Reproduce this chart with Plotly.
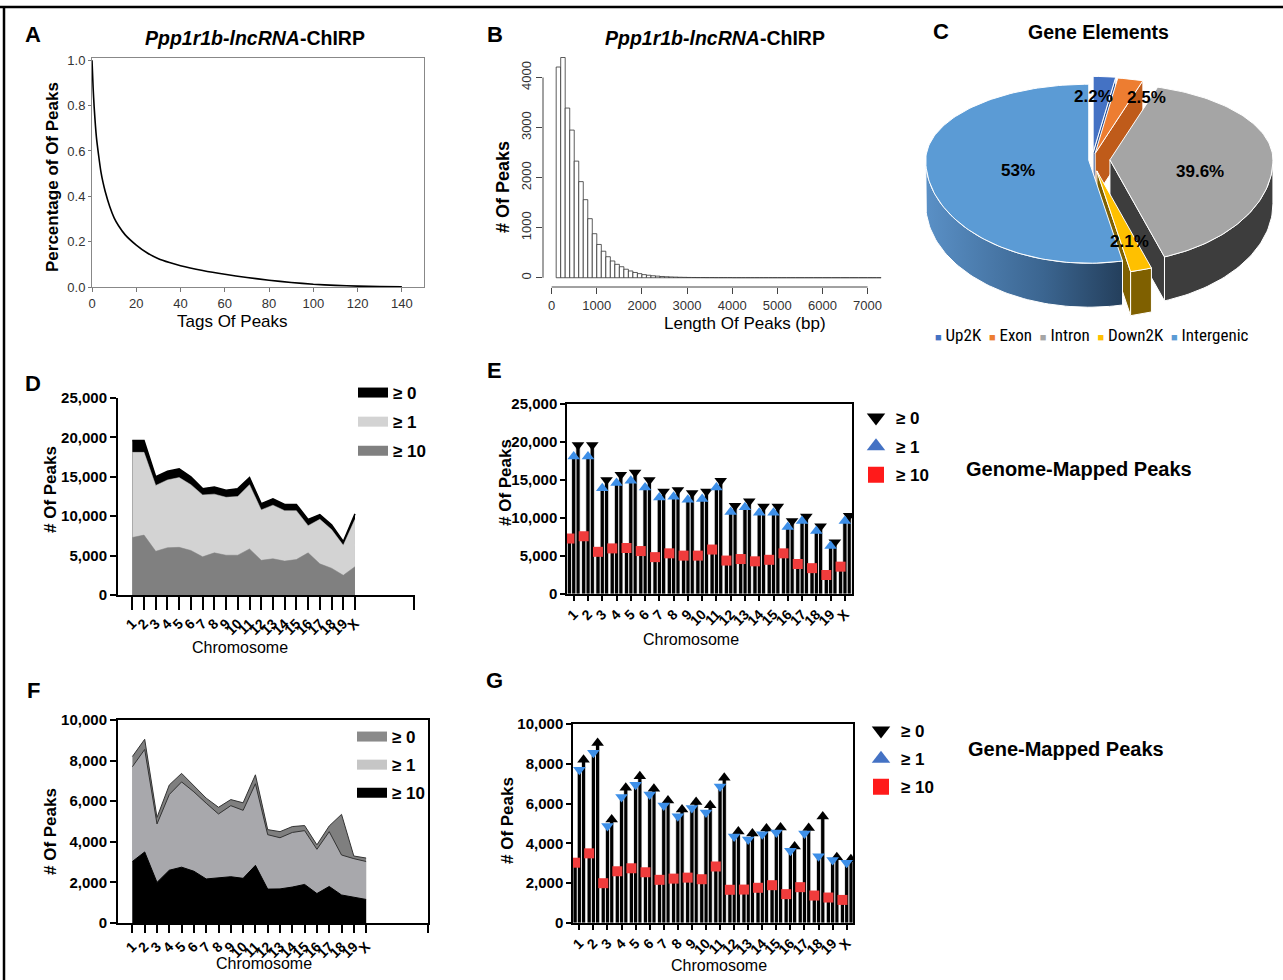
import numpy as np
import plotly.graph_objects as go

W, H = 1283, 980
FONT = "Liberation Sans, Arial, Helvetica, sans-serif"

# ======================= DATA =======================
# A: fraction of peaks vs number of tags
tags_x = [0, 0.5, 1, 2, 3, 4, 5, 6, 8, 10, 12, 15, 20, 25, 30, 35, 40, 50, 60, 70,
          80, 90, 100, 110, 120, 130, 140]
tags_frac = [1.0, 0.88, 0.79, 0.66, 0.58, 0.51, 0.46, 0.42, 0.355, 0.305, 0.27, 0.23,
             0.185, 0.15, 0.125, 0.108, 0.094, 0.073, 0.056, 0.042, 0.03, 0.02, 0.012,
             0.007, 0.004, 0.002, 0.001]

# B: histogram of peak length (bp), 100-bp bins starting at 100 bp
length_bin_start = 100
length_bin_width = 100
length_counts = [4210, 4400, 3390, 2950, 2330, 1920, 1560, 1180, 880, 665,
                 530, 420, 335, 268, 220, 170, 135, 105, 82, 62,
                 50, 40, 32, 25, 20, 16, 13, 10, 8, 6,
                 5, 4, 4, 3, 3, 2, 2, 2, 2, 1,
                 1, 1, 1, 1, 1, 1, 1, 1, 1, 1,
                 1, 1, 1, 1, 1, 1, 1, 1, 1, 1,
                 1, 1, 1, 1, 1, 1, 1, 1, 1, 1,
                 1, 1]

# C: gene elements (%)
gene_elements = ["Up2K", "Exon", "Intron", "Down2K", "Intergenic"]
gene_pct = [2.2, 2.5, 39.6, 2.1, 53.0]

# D/E: genome-mapped peaks per chromosome
chroms = ["1", "2", "3", "4", "5", "6", "7", "8", "9", "10", "11", "12", "13",
          "14", "15", "16", "17", "18", "19", "X"]
genome_ge0 = [19600, 19600, 15000, 15700, 16000, 15000, 13500, 13700, 13300, 13500,
              14900, 11600, 12200, 11500, 11500, 9600, 10200, 8900, 6800, 10300]
genome_ge1 = [18100, 18100, 13900, 14600, 14900, 14000, 12700, 12800, 12400, 12500,
              14000, 10800, 11400, 10700, 10700, 8800, 9600, 8300, 6300, 9600]
genome_ge10 = [7300, 7600, 5550, 6000, 6050, 5650, 4850, 5350, 5050, 5050,
               5850, 4400, 4600, 4300, 4500, 5350, 3950, 3400, 2500, 3600]

# F/G: gene-mapped peaks per chromosome
gene_ge0 = [8200, 9050, 5200, 6800, 7370, 6750, 6150, 5700, 6080, 5920,
            7300, 4600, 4500, 4750, 4800, 3850, 4780, 5350, 3300, 3200]
gene_ge1 = [7700, 8550, 4880, 6330, 6950, 6460, 5900, 5370, 5780, 5550,
            6860, 4350, 4200, 4460, 4550, 3630, 4500, 3350, 3170, 3030]
gene_ge10 = [3030, 3500, 2000, 2600, 2750, 2550, 2170, 2230, 2280, 2200,
             2840, 1670, 1680, 1770, 1900, 1450, 1800, 1380, 1280, 1160]

thresholds = ["≥ 0", "≥ 1", "≥ 10"]

# ======================= HELPERS =======================
def px(x):
    return x / W


def py(y):
    return 1 - y / H


fig = go.Figure()
annotations = []
shapes = []


def text(s, x, y, size, bold=False, angle=0, color="black", xanchor="center",
         xref="paper", yref="paper", family=FONT):
    if xref == "paper":
        x = px(x)
    if yref == "paper":
        y = py(y)
    annotations.append(dict(
        text=("<b>%s</b>" % s) if bold else s, x=x, y=y, xref=xref, yref=yref,
        xanchor=xanchor, yanchor="middle", showarrow=False, textangle=angle,
        font=dict(family=family, size=size, color=color)))


# ======================= A =======================
fig.add_trace(go.Scatter(x=tags_x, y=tags_frac, mode="lines",
                         line=dict(color="black", width=1.6, shape="spline", smoothing=0.5),
                         xaxis="x", yaxis="y", showlegend=False))

# ======================= B =======================
centers = [length_bin_start + length_bin_width * (i + 0.5) for i in range(len(length_counts))]
fig.add_trace(go.Bar(x=centers, y=length_counts, width=length_bin_width,
                     marker=dict(color="white", line=dict(color="#333333", width=0.8)),
                     xaxis="x2", yaxis="y2", showlegend=False))
shapes.append(dict(type="line", xref="x2 domain", x0=0, x1=0, yref="y2", y0=0, y1=4000,
                   line=dict(color="#444", width=1)))
shapes.append(dict(type="line", xref="x2", x0=0, x1=7000, yref="y2 domain", y0=0, y1=0,
                   line=dict(color="#444", width=1)))

# ======================= C (3-D pie) =======================
cx, cy, ra, rb_back, rb_front, depth = 1092.0, 160.0, 163.0, 76.0, 103.0, 44.0
pulls = [0.10, 0.09, 0.11, 0.11, 0.02]
top_colors = ["#4472C4", "#ED7D31", "#A5A5A5", "#FFC000", "#5B9BD5"]
wall_colors = ["#2F5597", "#BF5B1A", "#3D3D3D", "#7F6000", "#3C6A96"]

tot = sum(gene_pct)
bounds = np.concatenate([[0.0], np.cumsum(gene_pct)]) / tot * 360.0


def rb_of(t):
    c = np.cos(np.radians(t))
    return np.where(c > 0, rb_back, rb_front)


def pie_pt(t, ox, oy):
    tr = np.radians(t)
    return cx + ox + ra * np.sin(tr), cy + oy - rb_of(t) * np.cos(tr)


radial_walls, outer_walls, tops = [], [], []
for i in range(len(gene_pct)):
    t0, t1 = bounds[i], bounds[i + 1]
    tmd = (t0 + t1) / 2
    tm = np.radians(tmd)
    ox = pulls[i] * ra * np.sin(tm)
    oy = -pulls[i] * float(rb_of(tmd)) * np.cos(tm)
    vx, vy = cx + ox, cy + oy
    ts = np.linspace(t0, t1, max(4, int((t1 - t0) / 1.5)))
    ax_, ay_ = pie_pt(ts, ox, oy)
    tops.append((np.r_[vx, ax_, vx], np.r_[vy, ay_, vy], top_colors[i]))
    for t, vis in ((t0, np.sin(np.radians(t0)) < -1e-6), (t1, np.sin(np.radians(t1)) > 1e-6)):
        if vis:
            ex, ey = pie_pt(t, ox, oy)
            ex, ey = float(ex), float(ey)
            radial_walls.append(([vx, ex, ex, vx, vx], [vy, ey, ey + depth, vy + depth, vy],
                                 wall_colors[i]))
    a0, a1 = max(t0, 90.0), min(t1, 270.0)
    if a1 > a0:
        ts2 = np.linspace(a0, a1, max(4, int((a1 - a0) / 1.5)))
        wx, wy = pie_pt(ts2, ox, oy)
        outer_walls.append((np.r_[wx, wx[::-1], wx[0]], np.r_[wy, wy[::-1] + depth, wy[0]],
                            wall_colors[i], gene_elements[i]))

for xs, ys, col in radial_walls:
    fig.add_trace(go.Scatter(x=xs, y=ys, mode="lines", fill="toself", fillcolor=col,
                             line=dict(color="white", width=1), xaxis="x3", yaxis="y3",
                             showlegend=False, hoverinfo="skip"))
for xs, ys, col, name in outer_walls:
    kw = {}
    if name == "Intergenic":
        kw["fillgradient"] = dict(type="horizontal",
                                  colorscale=[[0, "#5a90c6"], [0.6, "#3b6590"], [1, "#243f5c"]])
    fig.add_trace(go.Scatter(x=xs, y=ys, mode="lines", fill="toself", fillcolor=col,
                             line=dict(color="white", width=1), xaxis="x3", yaxis="y3",
                             showlegend=False, hoverinfo="skip", **kw))
for xs, ys, col in tops:
    fig.add_trace(go.Scatter(x=xs, y=ys, mode="lines", fill="toself", fillcolor=col,
                             line=dict(color="white", width=1), xaxis="x3", yaxis="y3",
                             showlegend=False, hoverinfo="skip"))

pie_label_pos = [(1093, 97), (1146, 98), (1200, 172), (1129, 242), (1018, 171)]
for v, (lx, ly) in zip(gene_pct, pie_label_pos):
    text("%g%%" % v, lx, ly, 17, bold=True, xref="x3", yref="y3")

legend_c = "  ".join(
    "<span style='color:%s;font-size:11px'>■</span> %s" % (c, n)
    for c, n in zip(top_colors, gene_elements))
text(legend_c, 1092, 335, 17, family="Liberation Sans Narrow, Arial Narrow, Roboto Condensed, " + FONT)

# ======================= D =======================
chr_pos = list(range(1, len(chroms) + 1))
area_styles_d = [("black", "black", 1.5), ("#d3d3d3", "#d3d3d3", 0.5), ("#808080", "#808080", 0.5)]
for vals, (fc, lc, lw) in zip([genome_ge0, genome_ge1, genome_ge10], area_styles_d):
    fig.add_trace(go.Scatter(x=chr_pos, y=vals, mode="lines", fill="tozeroy", fillcolor=fc,
                             line=dict(color=lc, width=lw), xaxis="x4", yaxis="y4",
                             showlegend=False, hoverinfo="skip"))
for name, col in zip(thresholds, ["black", "#d3d3d3", "#808080"]):
    fig.add_trace(go.Scatter(x=[None], y=[None], mode="lines", line=dict(color=col, width=10),
                             name=name, legend="legend2", legendgroup="d" + name,
                             xaxis="x4", yaxis="y4"))

# ======================= E =======================
idx = list(range(len(chroms)))
offsets = [0.3, 0.0, -0.3]  # >=0, >=1, >=10
bar_w = 0.3
for vals, off in zip([genome_ge0, genome_ge1, genome_ge10], offsets):
    fig.add_trace(go.Bar(x=[i + off for i in idx], y=vals, width=bar_w,
                         marker=dict(color="black", line=dict(color="white", width=0.8)),
                         xaxis="x5", yaxis="y5", showlegend=False))
e_markers = [("triangle-down", "black", 11), ("triangle-up", "#3d8fe8", 11), ("square", "#f03c3c", 10)]
for vals, off, (sym, col, sz) in zip([genome_ge0, genome_ge1, genome_ge10], offsets, e_markers):
    fig.add_trace(go.Scatter(x=[i + off for i in idx], y=vals, mode="markers",
                             marker=dict(symbol=sym, color=col, size=sz, line=dict(width=0)),
                             xaxis="x5", yaxis="y5", showlegend=False, hoverinfo="skip"))
leg_markers = [("triangle-down", "black"), ("triangle-up", "#4472C4"), ("square", "#ff1a1a")]
for name, (sym, col) in zip(thresholds, leg_markers):
    fig.add_trace(go.Scatter(x=[None], y=[None], mode="markers",
                             marker=dict(symbol=sym, color=col, size=16),
                             name=name, legend="legend3", legendgroup="e" + name,
                             xaxis="x5", yaxis="y5"))

# ======================= F =======================
area_styles_f = [("#7f7f7f", "#333333", 1.0), ("#a8a8ac", "#333333", 1.0), ("black", "black", 1.0)]
for vals, (fc, lc, lw) in zip([gene_ge0, gene_ge1, gene_ge10], area_styles_f):
    fig.add_trace(go.Scatter(x=chr_pos, y=vals, mode="lines", fill="tozeroy", fillcolor=fc,
                             line=dict(color=lc, width=lw), xaxis="x6", yaxis="y6",
                             showlegend=False, hoverinfo="skip"))
for name, col in zip(thresholds, ["#8a8a8a", "#c6c6c6", "black"]):
    fig.add_trace(go.Scatter(x=[None], y=[None], mode="lines", line=dict(color=col, width=10),
                             name=name, legend="legend4", legendgroup="f" + name,
                             xaxis="x6", yaxis="y6"))

# ======================= G =======================
for vals, off in zip([gene_ge0, gene_ge1, gene_ge10], offsets):
    fig.add_trace(go.Bar(x=[i + off for i in idx], y=vals, width=bar_w,
                         marker=dict(color="black", line=dict(color="white", width=0.8)),
                         xaxis="x7", yaxis="y7", showlegend=False))
g_markers = [("triangle-up", "black", 11), ("triangle-down", "#3d8fe8", 11), ("square", "#f03c3c", 10)]
for vals, off, (sym, col, sz) in zip([gene_ge0, gene_ge1, gene_ge10], offsets, g_markers):
    fig.add_trace(go.Scatter(x=[i + off for i in idx], y=vals, mode="markers",
                             marker=dict(symbol=sym, color=col, size=sz, line=dict(width=0)),
                             xaxis="x7", yaxis="y7", showlegend=False, hoverinfo="skip"))
for name, (sym, col) in zip(thresholds, leg_markers):
    fig.add_trace(go.Scatter(x=[None], y=[None], mode="markers",
                             marker=dict(symbol=sym, color=col, size=16),
                             name=name, legend="legend5", legendgroup="g" + name,
                             xaxis="x7", yaxis="y7"))

# ======================= AXES =======================
light_tick = dict(family=FONT, size=13, color="#333333")
bold_tick = dict(family=FONT, size=15, color="black", weight="bold")
bold_xtick = dict(family=FONT, size=14, color="black", weight="bold")


def base(**kw):
    d = dict(showgrid=False, zeroline=False, automargin=False)
    d.update(kw)
    return d


layout_axes = dict(
    xaxis=base(domain=[px(92), px(424)], range=[0, 150], tickvals=list(range(0, 141, 20)),
               ticks="outside", ticklen=4, tickcolor="#777", showline=True, linecolor="#888",
               linewidth=1, mirror=True, tickfont=light_tick, anchor="y"),
    yaxis=base(domain=[py(287), py(58)], range=[0, 1.01], tickvals=[0, 0.2, 0.4, 0.6, 0.8, 1.0],
               tickformat=".1f", ticks="outside", ticklen=3, tickcolor="#777", showline=True,
               linecolor="#888", linewidth=1, mirror=True, tickfont=light_tick, anchor="x"),
    xaxis2=base(domain=[px(543), px(882)], range=[-192, 7320], tickvals=list(range(0, 7001, 1000)),
                ticks="outside", ticklen=6, tickcolor="#444", showline=False, tickfont=light_tick,
                anchor="y2"),
    yaxis2=base(domain=[py(287), py(50)], range=[-185, 4550], tickvals=[0, 1000, 2000, 3000, 4000],
                tickangle=-90, ticks="outside", ticklen=6, tickcolor="#444", showline=False,
                tickfont=light_tick, anchor="x2"),
    xaxis3=dict(domain=[px(905), px(1283)], range=[905, 1283], visible=False, anchor="y3"),
    yaxis3=dict(domain=[py(330), py(60)], range=[330, 60], visible=False, anchor="x3"),
    xaxis4=base(domain=[px(118), px(415)], range=[-0.22, 25.12],
                tickvals=chr_pos + [25], ticktext=chroms + [""], tickangle=-45,
                ticks="outside", ticklen=13, tickwidth=2, tickcolor="black", showline=True,
                linecolor="black", linewidth=2, tickfont=bold_xtick, anchor="y4"),
    yaxis4=base(domain=[py(595), py(398)], range=[0, 25000], tickvals=list(range(0, 25001, 5000)),
                tickformat=",", ticks="outside", ticklen=6, tickwidth=2, tickcolor="black",
                showline=True, linecolor="black", linewidth=2, tickfont=bold_tick, anchor="x4"),
    xaxis5=base(domain=[px(567), px(852)], range=[-0.47, 19.5], tickvals=idx, ticktext=chroms,
                tickangle=-45, ticks="outside", ticklen=5, tickwidth=1.5, tickcolor="black",
                showline=True, linecolor="black", linewidth=1.5, mirror=True,
                tickfont=bold_xtick, anchor="y5"),
    yaxis5=base(domain=[py(594), py(404)], range=[0, 25000], tickvals=list(range(0, 25001, 5000)),
                tickformat=",", ticks="outside", ticklen=5, tickwidth=1.5, tickcolor="black",
                showline=True, linecolor="black", linewidth=1.5, mirror=True,
                tickfont=bold_tick, anchor="x5"),
    xaxis6=base(domain=[px(118), px(428)], range=[-0.17, 25.03],
                tickvals=chr_pos + [25], ticktext=chroms + [""], tickangle=-45,
                ticks="outside", ticklen=8, tickwidth=2, tickcolor="black", showline=True,
                linecolor="black", linewidth=2, mirror=True, tickfont=bold_xtick, anchor="y6"),
    yaxis6=base(domain=[py(923), py(720)], range=[0, 10000], tickvals=list(range(0, 10001, 2000)),
                tickformat=",", ticks="outside", ticklen=6, tickwidth=2, tickcolor="black",
                showline=True, linecolor="black", linewidth=2, mirror=True,
                tickfont=bold_tick, anchor="x6"),
    xaxis7=base(domain=[px(573), px(853)], range=[-0.45, 19.45], tickvals=idx, ticktext=chroms,
                tickangle=-45, ticks="outside", ticklen=5, tickwidth=1.5, tickcolor="black",
                showline=True, linecolor="black", linewidth=1.5, mirror=True,
                tickfont=bold_xtick, anchor="y7"),
    yaxis7=base(domain=[py(923), py(724)], range=[0, 10000], tickvals=list(range(0, 10001, 2000)),
                tickformat=",", ticks="outside", ticklen=5, tickwidth=1.5, tickcolor="black",
                showline=True, linecolor="black", linewidth=1.5, mirror=True,
                tickfont=bold_tick, anchor="x7"),
)


def leg(xleft, ytop, gap):
    return dict(x=px(xleft), y=py(ytop), xanchor="left", yanchor="top",
                bgcolor="rgba(0,0,0,0)", borderwidth=0, traceorder="grouped",
                tracegroupgap=gap, itemwidth=30,
                font=dict(family=FONT, size=17, color="black", weight="bold"))


# ======================= TEXT =======================
for letter, lx, ly in [("A", 33, 35), ("B", 495, 35), ("C", 941, 32), ("D", 33, 383),
                       ("E", 494, 370), ("F", 33, 690), ("G", 494, 680)]:
    text(letter, lx, ly, 22, bold=True)

chirp_title = "<i>Ppp1r1b-lncRNA</i>-ChIRP"
text(chirp_title, 255, 38, 19.5, bold=True)
text(chirp_title, 715, 38, 19.5, bold=True)
text("Gene Elements", 1098, 32, 19.5, bold=True)

text("Percentage of Of Peaks", 52, 177, 17, bold=True, angle=-90)
text("Tags Of Peaks", 233, 321, 17)
text("# Of Peaks", 503, 187, 18, bold=True, angle=-90)
text("Length Of Peaks (bp)", 745, 323, 17)

text("# Of Peaks", 50, 490, 17, bold=True, angle=-90)
text("Chromosome", 240, 647, 16)
text("# Of Peaks", 505, 483, 17, bold=True, angle=-90)
text("Chromosome", 691, 639, 16)
text("# Of Peaks", 50, 832, 17, bold=True, angle=-90)
text("Chromosome", 264, 963, 16)
text("# Of Peaks", 507, 821, 17, bold=True, angle=-90)
text("Chromosome", 719, 965, 16)

text("Genome-Mapped Peaks", 1079, 469, 20, bold=True)
text("Gene-Mapped Peaks", 1066, 749, 20, bold=True)

# outer frame lines (top and left)
shapes.append(dict(type="line", xref="paper", yref="paper", x0=0, x1=1, y0=py(7), y1=py(7),
                   line=dict(color="black", width=2.5)))
shapes.append(dict(type="line", xref="paper", yref="paper", x0=px(4), x1=px(4), y0=py(7), y1=0,
                   line=dict(color="black", width=2.5)))

fig.update_layout(
    width=W, height=H, margin=dict(l=0, r=0, t=0, b=0, pad=0, autoexpand=False),
    paper_bgcolor="white", plot_bgcolor="white", barmode="overlay", hovermode=False,
    font=dict(family=FONT, color="black"),
    showlegend=True,
    legend2=leg(353, 375, 4),
    legend3=leg(856, 400, 3.5),
    legend4=leg(352, 719, 3),
    legend5=leg(861, 713, 3),
    annotations=annotations, shapes=shapes,
    **layout_axes,
)

fig.write_html("out.html", config={"displayModeBar": False},
               post_script="document.body.style.margin='0';document.body.style.padding='0';"
                           "document.body.style.overflow='hidden';")
